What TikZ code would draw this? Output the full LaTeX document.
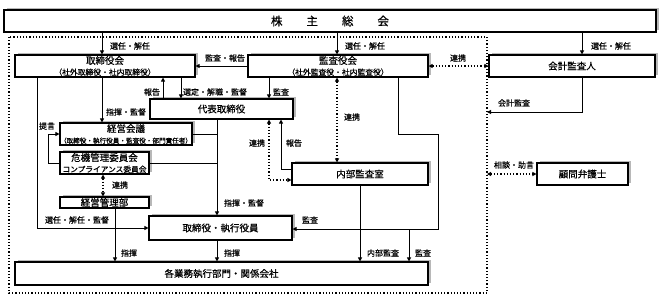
\documentclass[tikz,border=0pt]{standalone}
\usepackage{fontspec}
\newfontfamily\jp{Noto Sans CJK JP}[FakeBold=0.6]
\newfontfamily\jpl{Noto Sans CJK JP}[FakeBold=0.4]
\usetikzlibrary{arrows.meta,shadows}
\begin{document}
\begin{tikzpicture}[x=1pt,y=-1pt,
 box/.style={draw, line width=1.1pt, fill=white, inner sep=0pt, align=center,
   font=\jp\fontsize{9.5}{11}\selectfont,
   general shadow={shadow xshift=3pt, shadow yshift=2.5pt, fill=black!28}},
 lbl/.style={font=\jpl\fontsize{8}{9}\selectfont, inner sep=0pt},
 arr/.style={line width=1pt, -{Triangle[length=4pt,width=4pt]}},
 ln/.style={line width=1pt},
 darr/.style={line width=1.2pt, dotted, {Triangle[length=4pt,width=4pt]}-{Triangle[length=4pt,width=4pt]}},
 bord/.style={line width=1.2pt, dotted},
]
\useasboundingbox (0,0) rectangle (660,297);
\fill[white] (0,0) rectangle (660,297);

% columns
\foreach \x in {37,48,102,103,115,163,181,217,269,281,337,360,398,409,438,487,582}
  \coordinate (c\x) at (\x,0);
\coordinate (j1) at (438,134);
\coordinate (j2) at (438,229);
\coordinate (bd1) at (487,112);
\coordinate (bd2) at (487,174);

% dotted border
\draw[bord] (9,37) rectangle (487,293);

% boxes
\node[box, minimum width=652pt, minimum height=22pt, font=\jp\fontsize{11.5}{12}\selectfont] (sh) at (330,21) {株\hspace{24pt}主\hspace{24pt}総\hspace{24pt}会};
\node[box, minimum width=180pt, minimum height=22pt] (tb) at (105,66) {取締役会\\{\fontsize{7.8}{9}\selectfont （社外取締役・社内取締役）}};
\node[box, minimum width=180pt, minimum height=22pt] (ka) at (338,66) {監査役会\\{\fontsize{7.8}{9}\selectfont （社外監査役・社内監査役）}};
\node[box, minimum width=166pt, minimum height=22pt] (kk) at (572,66) {会計監査人};
\node[box, minimum width=143pt, minimum height=20pt] (dh) at (221.5,109) {代表取締役};
\node[box, minimum width=132pt, minimum height=22pt] (kg) at (126,134) {経営会議\\{\fontsize{6.6}{8}\selectfont （取締役・執行役員・監査役・部門責任者）}};
\node[box, minimum width=89pt, minimum height=22pt] (km) at (104.5,163) {危機管理委員会\\{\fontsize{7.7}{9}\selectfont コンプライアンス委員会}};
\node[box, minimum width=89pt, minimum height=11pt] (kb) at (104.5,202.5) {経営管理部};
\node[box, minimum width=143pt, minimum height=24pt] (ts) at (220.5,228) {取締役・執行役員};
\node[box, minimum width=136pt, minimum height=22pt] (nb) at (360,174) {内部監査室};
\node[box, minimum width=91pt, minimum height=22pt] (kb2) at (582.5,174) {顧問弁護士};
\node[box, minimum width=413pt, minimum height=23pt] (gy) at (221.5,273.5) {各業務執行部門・関係会社};

% connectors
\draw[arr] (sh.south -| c102) -- (tb.north -| c102);
\draw[arr] (sh.south -| c337) -- (ka.north -| c337);
\draw[arr] (sh.south -| c582) -- (kk.north -| c582);
\draw[arr] (ka.west) -- (tb.east);
\draw[darr] (ka.east) -- (kk.west);
\draw[arr] (dh.north -| c163) -- (tb.south -| c163);
\draw[arr] (tb.south -| c181) -- (dh.north -| c181);
\draw[arr] (ka.south -| c269) -- (dh.north -| c269);
\draw[arr] (tb.south -| c102) -- (kg.north -| c102);
\draw[arr] (km.west) -- (c48 |- km.west) |- (kg.west);
\draw[darr] (km.south -| c103) -- (kb.north -| c103);
\draw[ln] (kg.east) -- (kg.east -| c217);
\draw[ln] (km.east) -- (km.east -| c217);
\draw[arr] (dh.south -| c217) -- (ts.north -| c217);
\draw[arr] (tb.south -| c37) |- (ts.west);
\draw[arr] (kb.south -| c115) -- (gy.north -| c115);
\draw[arr] (ts.south -| c217) -- (gy.north -| c217);
\draw[arr] ([yshift=5pt]nb.west) -| (dh.south -| c281);
\draw[darr] (dh.south -| c269) |- ([yshift=-6pt]nb.west);
\draw[darr] (ka.south -| c337) -- (nb.north -| c337);
\draw[arr] (ka.south -| c398) |- (j1) -- (j2) -- (ts.east |- j2);
\draw[arr] (j2 -| c409) -- (gy.north -| c409);
\draw[arr] (nb.south) -- (gy.north -| nb.south);
\draw[arr] (kk.south -| c582) |- (bd1);
\draw[darr] (bd2) -- (kb2.west);

% labels
\node[lbl] (l1) at (130,46) {選任・解任};
\node[lbl] (l2) at (365,46) {選任・解任};
\node[lbl] (l3) at (611,46) {選任・解任};
\node[lbl] (l4) at (225,58) {監査・報告};
\node[lbl] (l5) at (458,58) {連携};
\node[lbl] (l6) at (152,92) {報告};
\node[lbl] (l7) at (215,92) {選定・解職・監督};
\node[lbl] (l8) at (281,92) {監査};
\node[lbl] (l9) at (126,112) {指揮・監督};
\node[lbl] (l10) at (47,126) {提言};
\node[lbl] (l11) at (120,185) {連携};
\node[lbl] (l12) at (244,203) {指揮・監督};
\node[lbl] (l13) at (77,220) {選任・解任・監督};
\node[lbl] (l14) at (310,220) {監査};
\node[lbl] (l15) at (129,253) {指揮};
\node[lbl] (l16) at (232,253) {指揮};
\node[lbl] (l17) at (383,253) {内部監査};
\node[lbl] (l18) at (423,253) {監査};
\node[lbl] (l19) at (294,143) {報告};
\node[lbl] (l20) at (257,143) {連携};
\node[lbl] (l21) at (352,117) {連携};
\node[lbl] (l22) at (514,103) {会計監査};
\node[lbl] (l23) at (514,165) {相談・助言};
\end{tikzpicture}
\end{document}
